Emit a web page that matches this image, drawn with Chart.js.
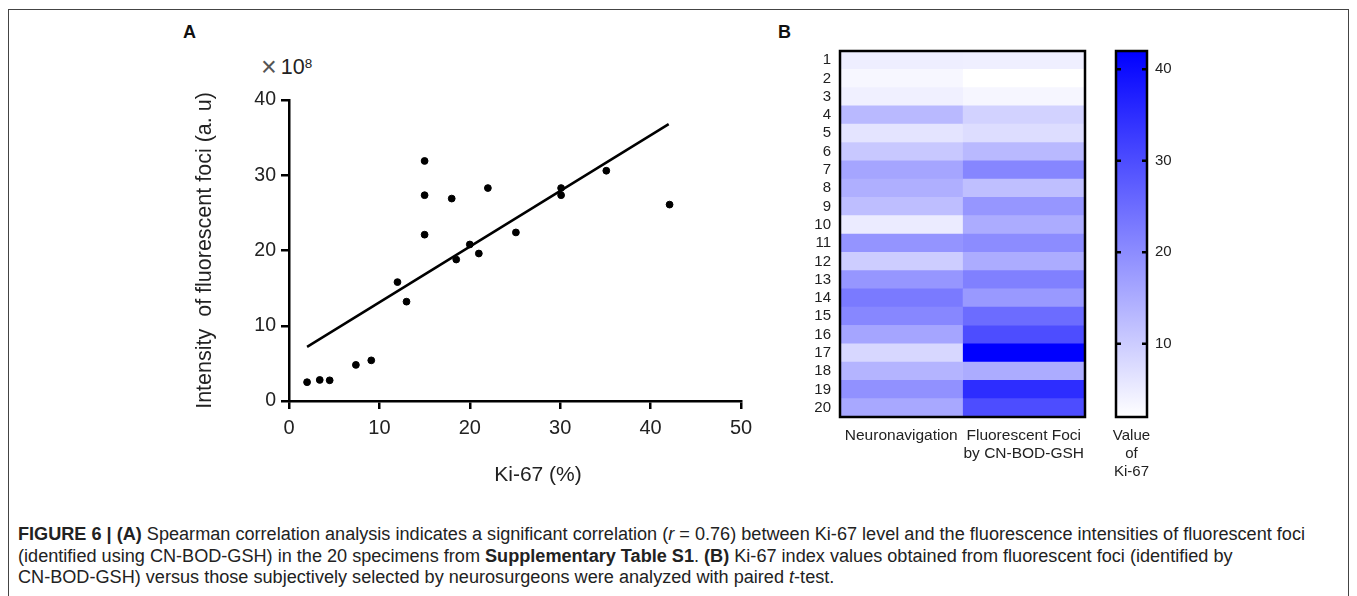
<!DOCTYPE html>
<html>
<head>
<meta charset="utf-8">
<script src="https://cdn.jsdelivr.net/npm/chart.js@4.4.1/dist/chart.umd.min.js"></script>
<style>
  body { margin: 0; background: #fff; font-family: "Liberation Sans", Arial, sans-serif; }
  #wrap { position: relative; width: 1357px; height: 596px; overflow: hidden; }
  #frame { position: absolute; left: 8px; top: 9px; width: 1341px; height: 590px; border: 1.5px solid #444; box-sizing: border-box; }
  canvas { position: absolute; }
  .panel { position: absolute; font-weight: bold; font-size: 18px; color: #111; }
  #scale { position: absolute; left: 261px; top: 50px; font-size: 21.5px; color: #222; white-space: nowrap; }
  #scale .times { font-size: 27px; color: #555; position: relative; top: 2px; margin-right: 4px; }
  #scale sup { font-size: 13.5px; vertical-align: 0; position: relative; top: -6px; }
  #xtitle { position: absolute; left: 538px; top: 462px; transform: translateX(-50%); font-size: 21px; line-height: 24px; color: #222; white-space: nowrap; }
  #caption { position: absolute; left: 18px; top: 524px; font-size: 18px; line-height: 21.5px; color: #222; white-space: nowrap; }
  #caption .line { width: max-content; transform-origin: 0 0; }
</style>
</head>
<body>
<div id="wrap">
  <div id="frame"></div>
  <div class="panel" style="left:183px; top:22px;">A</div>
  <div class="panel" style="left:778px; top:22px;">B</div>
  <div id="scale"><span class="times">×</span>10<sup>8</sup></div>
  <canvas id="scatterChart" style="left:170px; top:60px;" width="600" height="430"></canvas>
  <div id="xtitle">Ki-67 (%)</div>
  <canvas id="heatChart" style="left:790px; top:40px;" width="310" height="450"></canvas>
  <canvas id="barChart" style="left:1100px; top:40px;" width="110" height="450"></canvas>
  <div id="caption">
    <div class="line"><b>FIGURE 6 | (A)</b> Spearman correlation analysis indicates a significant correlation (<i>r</i> = 0.76) between Ki-67 level and the fluorescence intensities of fluorescent foci</div>
    <div class="line">(identified using CN-BOD-GSH) in the 20 specimens from <b>Supplementary Table S1</b>. <b>(B)</b> Ki-67 index values obtained from fluorescent foci (identified by</div>
    <div class="line">CN-BOD-GSH) versus those subjectively selected by neurosurgeons were analyzed with paired <i>t</i>-test.</div>
  </div>
</div>
<script>
// panel A: Ki-67 (%) vs intensity (x10^8 a.u.)
const ki67 = [2, 3.4, 4.5, 7.4, 9.1, 12, 13, 15, 15, 15, 18, 18.5, 20, 21, 22, 25.1, 30.1, 30.1, 35.1, 42.1];
const intensity = [2.5, 2.8, 2.75, 4.8, 5.4, 15.8, 13.2, 31.9, 27.35, 22.1, 26.9, 18.8, 20.8, 19.6, 28.3, 22.4, 28.3, 27.35, 30.6, 26.1];
const fitX = [2, 42];
const fitY = [7.2, 36.8];

// panel B: Ki-67 values per specimen
const specimens = ["1", "2", "3", "4", "5", "6", "7", "8", "9", "10", "11", "12", "13", "14", "15", "16", "17", "18", "19", "20"];
const neuronav = [4.7, 3.3, 4.4, 13, 6.2, 10.6, 16.1, 14.5, 12.2, 5.1, 18.8, 9.8, 18.5, 22.9, 20.8, 16.1, 8.3, 13.8, 19.3, 15.6];
const fociKi67 = [4.5, 2, 3.4, 9.1, 7.4, 13, 21, 12, 18.5, 15, 20, 15, 22, 18, 25, 30, 42, 15, 35, 30];
const columnLabels = ["Neuronavigation", ["Fluorescent Foci", "by CN-BOD-GSH"]];
const colorMin = 2;
const colorMax = 42;
const colorTicks = [10, 20, 30, 40];

const FONT = "'Liberation Sans', Arial, sans-serif";
const TXT = "#222";
const CAPTION_WIDTH = 1287;

function colorFor(v) {
  const t = Math.min(1, Math.max(0, (v - colorMin) / (colorMax - colorMin)));
  const c = Math.round(255 * (1 - t));
  return `rgb(${c},${c},255)`;
}

// stop Chart.js from reserving extra room for half-labels at the ends of the axes
const noEndPadding = (s) => {
  s.paddingTop = 0; s.paddingBottom = 0; s.paddingLeft = 0; s.paddingRight = 0;
};

const framePlugin = {
  id: "frame",
  afterDatasetsDraw(chart, args, opts) {
    const { ctx, chartArea: a } = chart;
    ctx.save();
    ctx.strokeStyle = "#000";
    ctx.lineWidth = 2.5;
    ctx.strokeRect(a.left, a.top, a.right - a.left, a.bottom - a.top);
    if (opts.innerTicks) {
      chart.scales.y.ticks.forEach((t) => {
        const y = chart.scales.y.getPixelForValue(t.value);
        ctx.beginPath();
        ctx.moveTo(a.left, y); ctx.lineTo(a.left + 5, y);
        ctx.moveTo(a.right - 5, y); ctx.lineTo(a.right, y);
        ctx.stroke();
      });
    }
    ctx.restore();
  },
};

function createScatter() {
  new Chart(document.getElementById("scatterChart"), {
    type: "scatter",
    data: {
      datasets: [
        {
          data: ki67.map((x, i) => ({ x, y: intensity[i] })),
          backgroundColor: "#000",
          borderColor: "#000",
          pointRadius: 3.4,
        },
        {
          type: "line",
          data: fitX.map((x, i) => ({ x, y: fitY[i] })),
          borderColor: "#000",
          borderWidth: 2.5,
          pointRadius: 0,
          fill: false,
        },
      ],
    },
    options: {
      responsive: false,
      animation: false,
      layout: { padding: { left: 0, top: 40, right: 29, bottom: 0 } },
      plugins: { legend: { display: false }, tooltip: { enabled: false } },
      scales: {
        x: {
          type: "linear",
          min: 0,
          max: 50,
          ticks: { stepSize: 10, color: TXT, font: { size: 20, family: FONT }, padding: 7 },
          grid: { drawOnChartArea: false, color: "#000", lineWidth: 2.5, tickLength: 8 },
          border: { color: "#000", width: 2.5 },
          afterFit: (s) => { s.height = 89; },
        },
        y: {
          min: 0,
          max: 40,
          ticks: { stepSize: 10, color: TXT, font: { size: 19.5, family: FONT }, padding: 5 },
          grid: { drawOnChartArea: false, color: "#000", lineWidth: 2.5, tickLength: 8 },
          border: { color: "#000", width: 2.5 },
          title: { display: true, text: "Intensity  of fluorescent foci (a. u)", color: TXT, font: { size: 21.5, family: FONT }, padding: { top: 22 } },
          afterFit: (s) => { s.width = 119; },
        },
      },
    },
  });
}

function createHeatmap() {
  new Chart(document.getElementById("heatChart"), {
    type: "bar",
    data: {
      labels: specimens,
      datasets: [
        { data: specimens.map(() => [0, 1]), backgroundColor: neuronav.map(colorFor) },
        { data: specimens.map(() => [1, 2]), backgroundColor: fociKi67.map(colorFor) },
      ],
    },
    options: {
      indexAxis: "y",
      responsive: false,
      animation: false,
      grouped: false,
      barPercentage: 1,
      categoryPercentage: 1,
      borderWidth: 0,
      layout: { padding: { left: 0, top: 11, right: 15, bottom: 0 } },
      plugins: { legend: { display: false }, tooltip: { enabled: false }, frame: {} },
      scales: {
        x: {
          type: "linear",
          min: 0,
          max: 2,
          grid: { display: false, drawTicks: false },
          border: { display: false },
          afterBuildTicks: (s) => { s.ticks = columnLabels.map((_, i) => ({ value: i + 0.5 })); },
          ticks: {
            autoSkip: false,
            maxRotation: 0,
            padding: 9,
            color: TXT,
            font: { size: 15.5, family: FONT },
            callback: (v, i) => columnLabels[i],
          },
          afterFit: (s) => { s.height = 73; noEndPadding(s); },
        },
        y: {
          grid: { display: false, drawTicks: false },
          border: { display: false },
          ticks: { autoSkip: false, padding: 9, color: TXT, font: { size: 15, family: FONT } },
          afterFit: (s) => { s.width = 50; noEndPadding(s); },
        },
      },
    },
    plugins: [framePlugin],
  });
}

function createColorBar() {
  new Chart(document.getElementById("barChart"), {
    type: "bar",
    data: {
      labels: [["Value", "of", "Ki-67"]],
      datasets: [
        {
          data: [[colorMin, colorMax]],
          borderWidth: 0,
          barPercentage: 1,
          categoryPercentage: 1,
          backgroundColor: (ctx) => {
            const chart = ctx.chart;
            if (!chart.chartArea) return colorFor(colorMax);
            const y = chart.scales.y;
            const g = chart.ctx.createLinearGradient(0, y.getPixelForValue(colorMin), 0, y.getPixelForValue(colorMax));
            g.addColorStop(0, colorFor(colorMin));
            g.addColorStop(1, colorFor(colorMax));
            return g;
          },
        },
      ],
    },
    options: {
      responsive: false,
      animation: false,
      layout: { padding: { left: 16, top: 11, right: 0, bottom: 0 } },
      plugins: { legend: { display: false }, tooltip: { enabled: false }, frame: { innerTicks: true } },
      scales: {
        x: {
          grid: { display: false, drawTicks: false },
          border: { display: false },
          ticks: { padding: 10, color: TXT, font: { size: 15, family: FONT } },
          afterFit: (s) => { s.height = 73; noEndPadding(s); },
        },
        y: {
          position: "right",
          min: colorMin,
          max: colorMax,
          grid: { display: false, drawTicks: false },
          border: { display: false },
          afterBuildTicks: (s) => { s.ticks = colorTicks.map((v) => ({ value: v })); },
          ticks: { padding: 8, color: TXT, font: { size: 15, family: FONT } },
          afterFit: (s) => { s.width = 63; noEndPadding(s); },
        },
      },
    },
    plugins: [framePlugin],
  });
}

function fitCaption() {
  const lines = document.querySelectorAll("#caption .line");
  const k = CAPTION_WIDTH / lines[0].getBoundingClientRect().width;
  lines.forEach((l) => { l.style.transform = `scaleX(${k})`; });
}

createScatter();
createHeatmap();
createColorBar();
fitCaption();
</script>
</body>
</html>
